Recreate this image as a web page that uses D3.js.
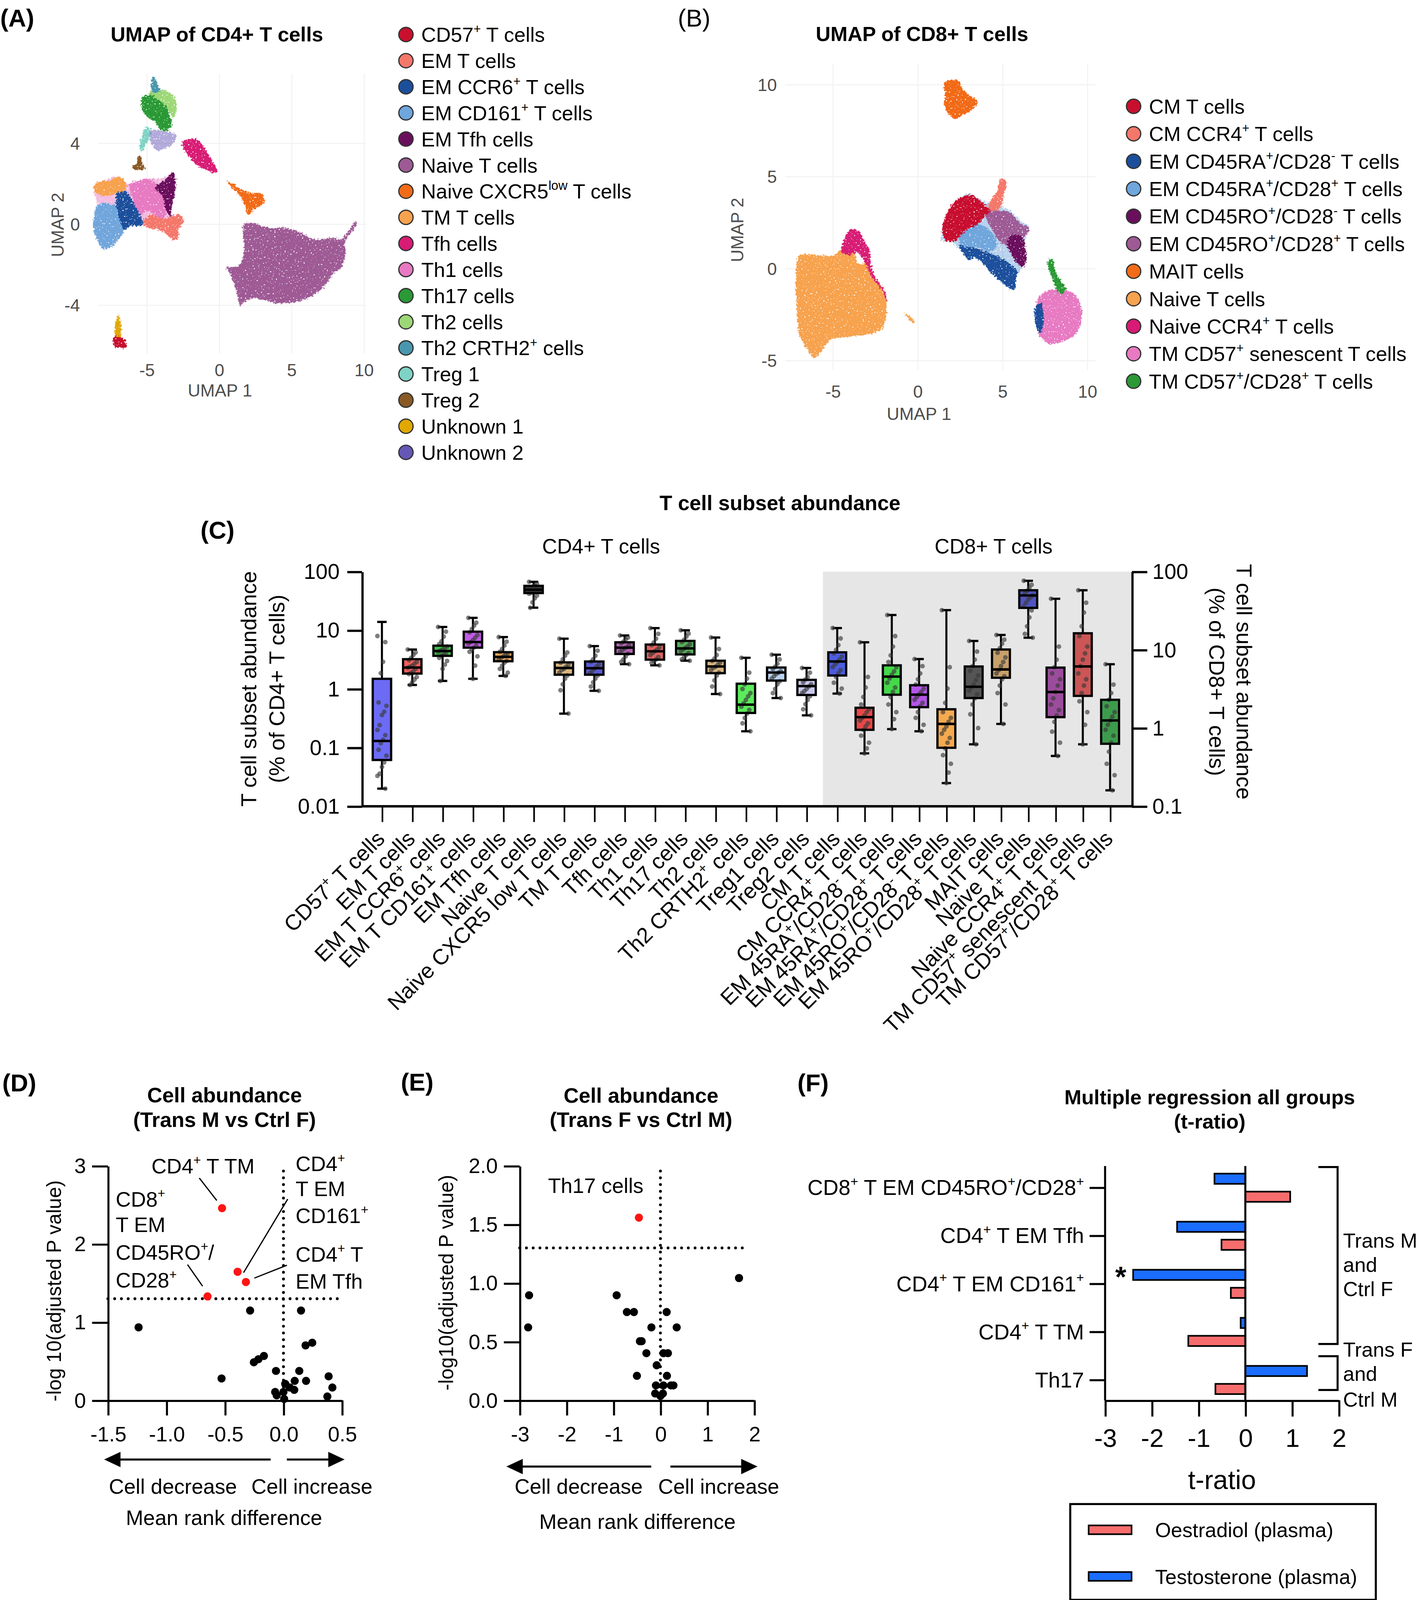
<!DOCTYPE html>
<html>
<head>
<meta charset="utf-8">
<script src="https://cdn.jsdelivr.net/npm/d3@7"></script>
<style>
  body { margin: 0; background: #fff; }
  svg { display: block; }
  text { white-space: pre; }
</style>
</head>
<body>
<svg id="fig"></svg>
<script>
const FONT = "'Liberation Sans',Arial,sans-serif"

// ---------- (A) UMAP of CD4+ T cells ----------
const cd4Subsets = ["CD57{+} T cells", "EM T cells", "EM CCR6{+} T cells", "EM CD161{+} T cells", "EM Tfh cells",
  "Naive T cells", "Naive CXCR5{low} T cells", "TM T cells", "Tfh cells", "Th1 cells", "Th17 cells", "Th2 cells",
  "Th2 CRTH2{+} cells", "Treg 1", "Treg 2", "Unknown 1", "Unknown 2"]
const cd4Colors = ["#c8102e", "#f4786a", "#1b4f9c", "#6fa6dc", "#6a0f5c", "#9e5a95", "#f26b18", "#f7a24e",
  "#d81b74", "#e77ac2", "#2b9935", "#9dd877", "#4997ad", "#7fd3c6", "#8a5a26", "#e0a800", "#6557b5"]
// cluster outlines (UMAP units), listed in drawing order
const cd4DrawOrder = [5, 9, 6, 11, 10, 12, 13, 16, 8, 14, 7, 3, 2, 9, 4, 1, 15, 0]
const cd4Outlines = [
  [[1.70,0.01],[2.35,0.06],[3.40,-0.18],[4.59,-0.18],[5.51,-0.37],[6.56,-0.74],[7.87,-0.65],[8.40,-0.74],[9.45,0.15],[9.51,0.06],[8.66,-0.93],[8.73,-1.4],[8.40,-2.15],[7.87,-2.43],[7.22,-3.09],[6.30,-3.56],[5.24,-3.84],[3.93,-3.89],[2.62,-3.66],[1.83,-3.75],[1.43,-4.03],[1.30,-3.66],[1.17,-3.28],[0.78,-2.53],[0.51,-2.15],[1.30,-2.06],[1.70,-1.4],[1.63,-0.46]],
  [[-8.62,1.98],[-7.90,2.17],[-7.11,2.36],[-6.19,1.98],[-4.87,2.27],[-3.95,2.27],[-3.17,2.55],[-3.03,2.17],[-3.10,1.42],[-3.30,0.48],[-2.77,0.48],[-2.44,0.20],[-2.77,-0.18],[-2.90,-0.74],[-3.17,-0.79],[-3.69,-0.46],[-4.22,-0.27],[-5.27,-0.08],[-6.19,-0.08],[-6.58,-0.27],[-6.98,-0.74],[-7.50,-1.12],[-8.03,-1.21],[-8.42,-0.84],[-8.68,-0.27],[-8.68,0.29],[-8.42,0.95],[-8.62,1.42]],
  [[0.51,2.13],[1.04,1.94],[1.56,1.70],[2.22,1.56],[2.88,1.51],[3.14,1.14],[2.75,0.86],[2.35,0.76],[2.22,0.57],[1.96,0.48],[1.83,0.86],[1.56,1.23],[1.04,1.70],[0.65,1.98]],
  [[-4.74,6.59],[-4.09,6.68],[-3.43,6.50],[-3.03,6.17],[-2.97,5.65],[-3.17,5.27],[-3.56,5.65],[-3.96,5.93],[-4.48,6.12],[-4.87,6.36]],
  [[-5.27,6.31],[-4.74,6.40],[-4.22,6.12],[-3.69,5.84],[-3.43,5.37],[-3.30,4.90],[-3.69,4.62],[-4.09,4.71],[-4.35,4.99],[-4.87,5.27],[-5.27,5.56],[-5.40,5.93]],
  [[-4.61,7.30],[-4.41,7.20],[-4.22,6.87],[-4.09,6.59],[-4.48,6.50],[-4.74,6.68],[-4.68,7.06]],
  [[-5.27,4.62],[-5.01,4.80],[-4.74,4.71],[-4.87,4.24],[-5.14,3.86],[-5.40,3.58],[-5.53,3.86],[-5.40,4.24]],
  [[-4.74,4.62],[-3.69,4.57],[-3.03,4.43],[-3.17,4.05],[-3.69,3.77],[-4.35,3.68],[-4.74,4.05]],
  [[-2.57,4.05],[-1.85,4.24],[-1.46,4.15],[-0.80,3.49],[-0.14,2.60],[-0.41,2.55],[-1.06,2.74],[-1.72,3.02],[-2.25,3.49],[-2.51,3.77]],
  [[-5.60,3.39],[-5.40,3.30],[-5.27,2.92],[-5.14,2.74],[-5.53,2.69],[-6.06,2.78],[-5.73,3.02]],
  [[-8.62,1.98],[-8.16,2.13],[-7.50,2.17],[-7.11,2.36],[-6.71,2.27],[-6.45,1.98],[-6.58,1.61],[-7.11,1.51],[-7.63,1.42],[-8.16,1.42],[-8.62,1.61]],
  [[-8.42,0.95],[-7.63,1.04],[-7.11,0.86],[-6.91,0.29],[-6.58,-0.27],[-6.98,-0.74],[-7.50,-1.12],[-8.03,-1.21],[-8.42,-0.84],[-8.68,-0.27],[-8.68,0.29]],
  [[-7.11,1.51],[-6.45,1.61],[-6.06,1.23],[-5.66,0.67],[-5.27,0.10],[-5.53,-0.08],[-6.19,-0.08],[-6.58,-0.27],[-6.91,0.29],[-7.11,0.86]],
  [[-6.19,1.98],[-5.53,2.17],[-4.87,2.27],[-4.35,1.98],[-3.96,1.42],[-3.69,0.67],[-3.96,0.10],[-4.48,0.48],[-5.01,0.67],[-5.40,0.48],[-5.79,0.86],[-6.06,1.42]],
  [[-4.48,1.80],[-3.82,2.17],[-3.17,2.55],[-3.03,2.17],[-3.10,1.42],[-3.30,0.86],[-3.36,0.39],[-3.69,0.67],[-3.96,1.42]],
  [[-5.27,0.10],[-4.74,0.48],[-3.96,0.29],[-3.30,0.39],[-2.77,0.48],[-2.44,0.20],[-2.77,-0.18],[-2.90,-0.74],[-3.17,-0.79],[-3.69,-0.46],[-4.22,-0.27],[-4.87,-0.18]],
  [[-7.04,-4.50],[-6.95,-4.50],[-6.82,-5.54],[-7.17,-5.58]],
  [[-7.24,-5.54],[-6.78,-5.58],[-6.45,-5.82],[-6.38,-6.10],[-6.84,-6.10],[-7.24,-6.05],[-7.37,-5.82]]
]
const umapXTicks = [-5, 0, 5, 10]
const umapAYTicks = [-4, 0, 4]

// ---------- (B) UMAP of CD8+ T cells ----------
const cd8Subsets = ["CM T cells", "CM CCR4{+} T cells", "EM CD45RA{+}/CD28{-} T cells", "EM CD45RA{+}/CD28{+} T cells",
  "EM CD45RO{+}/CD28{-} T cells", "EM CD45RO{+}/CD28{+} T cells", "MAIT cells", "Naive T cells",
  "Naive CCR4{+} T cells", "TM CD57{+} senescent T cells", "TM CD57{+}/CD28{+} T cells"]
const cd8Colors = ["#c8102e", "#f4786a", "#1b4f9c", "#6fa6dc", "#6a0f5c", "#9e5a95", "#f26b18", "#f7a24e",
  "#d81b74", "#e77ac2", "#2b9935"]
const cd8DrawOrder = [7, 7, 8, 6, 3, 2, 3, 5, 4, 1, 0, 9, 2, 10]
const cd8Outlines = [
  [[-7.0,0.72],[-6.38,0.78],[-5.02,0.72],[-4.65,0.95],[-4.28,1.28],[-3.78,0.95],[-3.53,0.28],[-3.04,0.28],[-2.42,-0.61],[-2.05,-1.06],[-1.86,-1.73],[-2.05,-3.18],[-2.67,-3.51],[-3.53,-3.62],[-4.53,-3.74],[-5.15,-3.85],[-5.64,-4.41],[-6.14,-4.85],[-6.51,-4.41],[-7.0,-3.51],[-7.13,-2.40],[-7.19,-0.17]],
  [[-0.8,-2.4],[-0.6,-2.5],[-0.2,-2.85],[-0.25,-2.95],[-0.6,-2.65]],
  [[-4.52,0.95],[-4.28,1.73],[-3.90,2.17],[-3.53,2.06],[-3.16,1.51],[-2.85,0.95],[-2.79,0.28],[-2.42,-0.61],[-1.92,-1.28],[-1.86,-1.73],[-2.17,-1.06],[-2.67,-0.5],[-3.1,0.3],[-3.6,0.9],[-4.1,0.75]],
  [[1.55,10.09],[2.29,10.26],[2.67,9.76],[3.04,9.42],[3.53,9.09],[3.16,8.64],[2.54,8.31],[2.23,8.14],[1.80,8.42],[1.55,8.86],[1.61,9.42]],
  [[1.43,2.06],[1.92,3.29],[2.42,3.85],[3.04,4.07],[3.53,3.85],[4.03,3.62],[5.39,3.18],[6.01,2.62],[6.57,2.29],[6.38,1.84],[6.26,1.28],[6.38,0.61],[6.14,0.06],[5.76,-0.5],[5.64,-1.12],[5.39,-1.06],[4.77,-0.61],[4.15,-0.06],[3.66,0.5],[3.28,0.61],[3.04,0.5],[2.67,0.95],[2.29,1.17],[1.92,1.5],[1.43,1.5]],
  [[2.42,1.28],[3.16,1.17],[3.90,0.95],[4.65,0.72],[5.39,0.28],[5.89,-0.17],[5.76,-0.61],[5.70,-1.11],[5.39,-1.06],[4.77,-0.61],[4.15,-0.06],[3.66,0.45],[3.28,0.61],[3.04,0.45],[2.67,0.84]],
  [[2.42,1.84],[2.91,2.17],[3.53,2.40],[4.15,2.17],[4.52,1.73],[4.65,1.17],[4.15,0.95],[3.53,1.17],[2.91,1.17],[2.54,1.28]],
  [[4.03,3.29],[4.77,3.18],[5.39,3.07],[6.01,2.51],[6.56,2.17],[6.25,1.73],[5.76,1.39],[5.26,1.28],[4.77,1.51],[4.40,2.06],[4.03,2.73]],
  [[5.52,1.84],[6.14,1.73],[6.32,1.17],[6.38,0.50],[6.14,0.06],[5.89,0.28],[5.52,0.72],[5.26,1.28]],
  [[4.65,4.18],[4.83,4.85],[5.20,4.79],[5.08,4.07],[4.90,3.40],[4.65,3.18],[4.28,3.18],[4.15,3.51]],
  [[1.43,2.17],[1.80,3.18],[2.29,3.74],[3.04,4.01],[3.53,3.79],[4.03,3.40],[4.28,3.18],[3.90,2.84],[3.53,2.40],[2.91,2.17],[2.54,1.84],[2.17,1.51],[1.67,1.51]],
  [[7.13,-1.51],[7.75,-1.17],[8.62,-1.17],[9.24,-1.39],[9.61,-2.06],[9.61,-2.95],[9.24,-3.62],[8.50,-3.96],[7.75,-4.07],[7.25,-3.74],[7.01,-3.18],[6.94,-2.29]],
  [[6.94,-2.06],[7.25,-1.84],[7.38,-2.95],[7.19,-3.51],[6.94,-3.07]],
  [[7.69,0.50],[7.93,0.56],[8.12,-0.17],[8.49,-0.72],[8.74,-1.17],[8.43,-1.39],[8.12,-1.06],[7.87,-0.39],[7.69,0.06]]
]
const umapBYTicks = [-5, 0, 5, 10]

// ---------- (C) T cell subset abundance ----------
const boxLabels = ["CD57{+} T cells", "EM T cells", "EM T CCR6{+} cells", "EM T CD161{+} cells", "EM Tfh cells",
  "Naive T cells", "Naive CXCR5 low T cells", "TM T cells", "Tfh cells", "Th1 cells", "Th17 cells", "Th2 cells",
  "Th2 CRTH2{+} cells", "Treg1 cells", "Treg2 cells",
  "CM T cells", "CM CCR4{+} T cells", "EM 45RA{+}/CD28{-} T cells", "EM 45RA{+}/CD28{+} T cells",
  "EM 45RO{+}/CD28{-} T cells", "EM 45RO{+}/CD28{+} T cells", "MAIT cells", "Naive T cells",
  "Naive CCR4{+} T cells", "TM CD57{+} senescent T cells", "TM CD57{+}/CD28{+} T cells"]
const nCD4 = 15
const boxMax = [13.9, 4.7, 11.4, 16.3, 7.67, 67, 7.2, 5.38, 8.16, 10.9, 10, 7.53, 3.4, 3.84, 2.28,
  19, 12.5, 27.9, 7.63, 32.2, 13, 15.5, 76.4, 45, 57.8, 6.55]
const boxQ3 = [1.49, 3.22, 5.47, 9.48, 4.24, 57.3, 2.84, 2.94, 6.25, 5.72, 6.6, 3.03, 1.23, 2.32, 1.43,
  9.3, 1.82, 6.34, 3.53, 1.74, 6.13, 10.1, 57.8, 5.93, 16.3, 2.3]
const boxMedian = [0.13, 2.32, 4.43, 6.3, 3.52, 49.2, 2.28, 2.26, 5.06, 4.39, 4.92, 2.42, 0.54, 1.91, 1.12,
  7.1, 1.38, 4.55, 2.67, 1.13, 3.37, 5.62, 49.6, 2.89, 6.13, 1.25]
const boxQ1 = [0.0616, 1.83, 3.67, 5.06, 2.97, 43.1, 1.75, 1.75, 3.95, 3.16, 3.88, 1.86, 0.39, 1.39, 0.79,
  4.7, 0.95, 2.67, 1.85, 0.56, 2.42, 4.4, 34.4, 1.38, 2.58, 0.63]
const boxMin = [0.02, 1.17, 1.37, 1.49, 1.67, 24.3, 0.38, 0.93, 2.65, 2.53, 3.03, 0.82, 0.19, 0.7, 0.355,
  2.76, 0.475, 0.97, 0.91, 0.198, 0.62, 1.13, 14.3, 0.44, 0.62, 0.16]
const boxColors = ["#6b6bf5", "#f25f5c", "#3fbf4a", "#c45ae8", "#e8a85e", "#3a3a3a", "#d9b780", "#5b5bd6",
  "#b565b5", "#e06262", "#55b05a", "#d9b780", "#5bec5b", "#b9d3f0", "#c9c9ef",
  "#4b5ce0", "#e84848", "#44d84a", "#b455e8", "#f5aa4f", "#555555", "#c8a06a", "#5055c0", "#9c4c9c",
  "#cc5555", "#3d9c4c"]
const boxDots = [
  [8.0,6.3,2.9,1.86,0.59,0.515,0.41,0.36,0.242,0.2,0.163,0.136,0.119,0.092,0.073,0.056,0.047,0.036,0.033,0.02],
  [4.7,4.2,3.8,3.4,3.1,2.9,2.7,2.5,2.4,2.3,2.2,2.0,1.9,1.8,1.6,1.45,1.3,1.17],
  [11.4,9.5,7.8,6.5,5.8,5.3,5.0,4.7,4.5,4.3,4.1,3.9,3.7,3.4,3.0,2.6,2.2,1.37],
  [16.3,13.5,12,10.5,9.2,8.3,7.5,6.8,6.3,5.9,5.5,5.1,4.8,4.3,3.6,2.5,1.49],
  [7.67,6.4,5.5,4.8,4.3,4.0,3.8,3.6,3.4,3.2,3.0,2.8,2.5,2.2,1.9,1.67],
  [67,62,58,55,52,50,48,46,44,42,39,35,30,24.3],
  [7.2,4.2,3.7,3.2,2.8,2.6,2.4,2.2,2.1,1.9,1.7,1.5,1.2,0.95,0.38],
  [5.38,4.5,3.7,3.2,2.9,2.6,2.4,2.2,2.0,1.85,1.7,1.5,1.3,1.1,0.93],
  [8.16,7.5,7.0,6.4,6.0,5.6,5.2,4.9,4.6,4.3,4.0,3.6,3.2,2.9,2.65],
  [10.9,8.7,7.2,6.2,5.6,5.1,4.7,4.4,4.1,3.8,3.5,3.2,3.0,2.8,2.53],
  [10,8.8,7.8,6.9,6.3,5.8,5.3,5.0,4.7,4.4,4.1,3.8,3.5,3.2,3.03],
  [7.53,4.8,3.8,3.3,3.0,2.8,2.6,2.4,2.3,2.1,1.9,1.7,1.4,1.1,0.82],
  [3.4,1.9,1.5,1.2,1.0,0.85,0.75,0.65,0.57,0.5,0.44,0.38,0.32,0.26,0.19],
  [3.84,3.2,2.7,2.4,2.2,2.0,1.9,1.8,1.65,1.5,1.35,1.2,1.0,0.85,0.7],
  [2.28,1.9,1.6,1.45,1.3,1.2,1.1,1.0,0.92,0.85,0.75,0.65,0.55,0.45,0.355],
  [19,14,11.5,10,9,8.2,7.5,7,6.5,6,5.5,5,4.5,3.8,3.2,2.76],
  [12.5,4.5,3.3,2.5,2.0,1.75,1.6,1.45,1.35,1.25,1.15,1.05,0.95,0.8,0.65,0.55,0.475],
  [27.9,15,11,8.5,7,6,5.3,4.8,4.3,3.8,3.3,2.9,2.5,2.0,1.6,1.3,0.97],
  [7.63,6.2,5,4.2,3.6,3.2,2.9,2.7,2.5,2.3,2.1,1.9,1.6,1.35,1.1,0.91],
  [32.2,6,3.2,2.1,1.6,1.35,1.2,1.05,0.95,0.85,0.75,0.65,0.55,0.45,0.35,0.27,0.198],
  [13,9.5,7.5,6.2,5.4,4.7,4.1,3.6,3.3,3.0,2.7,2.4,2.0,1.5,1.0,0.62],
  [15.5,13.5,12,10.5,9.2,8,7,6.2,5.5,5.0,4.6,4.2,3.5,2.8,2.0,1.13],
  [76.4,68,62,57,53,50,47,44,40,36,32,26,20,16,14.3],
  [45,11,7.5,6,5,4.2,3.5,2.9,2.4,2.0,1.7,1.45,1.2,0.9,0.65,0.44],
  [57.8,40,30,20,15,11,9,7.5,6.2,5,4.2,3.5,2.8,2.2,1.6,1.1,0.62],
  [6.55,3.6,2.8,2.3,1.9,1.6,1.4,1.25,1.1,0.95,0.8,0.65,0.5,0.35,0.25,0.16]
]
const leftTicks = [0.01, 0.1, 1, 10, 100]
const rightTicks = [0.1, 1, 10, 100]

// ---------- (D) Trans M vs Ctrl F ----------
const dSigX = [-0.525, -0.392, -0.321, -0.649]
const dSigY = [2.46, 1.646, 1.515, 1.331]
const dNsX = [-1.238, -0.285, 0.15, 0.189, 0.246, -0.253, -0.214, -0.167, -0.529, -0.064, 0.135, 0.386, 0.193,
  0.096, 0.418, 0.015, 0.054, 0.092, -0.071, -0.058, 0.0, 0.006, 0.375]
const dNsY = [0.935, 1.15, 1.15, 0.704, 0.738, 0.488, 0.527, 0.569, 0.281, 0.377, 0.377, 0.308, 0.25,
  0.25, 0.165, 0.212, 0.165, 0.135, 0.108, 0.065, 0.108, 0.019, 0.05]
const dXTicks = [-1.5, -1.0, -0.5, 0.0, 0.5]
const dYTicks = [0, 1, 2, 3]

// ---------- (E) Trans F vs Ctrl M ----------
const eSigX = [-0.459]
const eSigY = [1.559]
const eNsX = [-2.8, -2.82, -0.933, -0.715, -0.565, -0.192, 0.133, 0.347, -0.437, -0.4, -0.299, -0.08, 0.064,
  0.16, -0.501, 0.139, -0.096, 0.064, 0.224, 0.277, -0.112, 0.053, 0.0, 1.675]
const eNsY = [0.897, 0.623, 0.897, 0.754, 0.754, 0.623, 0.754, 0.623, 0.505, 0.505, 0.403, 0.3, 0.403,
  0.403, 0.21, 0.21, 0.128, 0.128, 0.128, 0.128, 0.059, 0.059, 0.038, 1.044]
const eXTicks = [-3, -2, -1, 0, 1, 2]
const eYTicks = [0, 0.5, 1.0, 1.5, 2.0]
const sigThreshold = -Math.log10(0.05)

// ---------- (F) Multiple regression ----------
const fCats = ["CD8{+} T EM CD45RO{+}/CD28{+}", "CD4{+} T EM Tfh", "CD4{+} T EM CD161{+}", "CD4{+} T TM", "Th17"]
const testosterone = [-0.66, -1.46, -2.40, -0.10, 1.32]
const oestradiol = [0.96, -0.51, -0.31, -1.22, -0.64]
const fXTicks = [-3, -2, -1, 0, 1, 2]

// ================= drawing =================
const svg = d3.select("#fig")
  .attr("viewBox", "0 0 1390 1567")
  .attr("width", 3638).attr("height", 4100)

const defs = svg.append("defs")
const rough = defs.append("filter").attr("id", "rough")
  .attr("x", "-10%").attr("y", "-10%").attr("width", "120%").attr("height", "120%")
rough.append("feTurbulence").attr("type", "fractalNoise").attr("baseFrequency", 0.55)
  .attr("numOctaves", 2).attr("seed", 4).attr("result", "n")
rough.append("feDisplacementMap").attr("in", "SourceGraphic").attr("in2", "n")
  .attr("scale", 5).attr("xChannelSelector", "R").attr("yChannelSelector", "G").attr("result", "d")
rough.append("feTurbulence").attr("type", "fractalNoise").attr("baseFrequency", 0.7)
  .attr("numOctaves", 1).attr("seed", 11).attr("result", "s")
rough.append("feColorMatrix").attr("in", "s").attr("type", "matrix")
  .attr("values", "0 0 0 0 0  0 0 0 0 0  0 0 0 0 0  0 0 0 -14 10.2").attr("result", "m")
rough.append("feComposite").attr("in", "d").attr("in2", "m").attr("operator", "in")

// text with {superscript} parts
function rich(t, str, fs) {
  const parts = str.split(/(\{[^}]*\})/).filter(s => s !== "")
  let raised = false
  parts.forEach(p => {
    const sup = p.startsWith("{")
    const s = t.append("tspan").text(sup ? p.slice(1, -1) : p)
    if (sup) { s.attr("dy", -fs * 0.42).attr("font-size", fs * 0.62); raised = true }
    else if (raised) { s.attr("dy", fs * 0.42); raised = false }
  })
}

function txt(parent, x, y, str, o = {}) {
  const fs = o.size || 20
  const t = parent.append("text")
    .attr("x", x).attr("y", y)
    .attr("font-family", FONT)
    .attr("font-size", fs)
    .attr("font-weight", o.bold ? "bold" : "normal")
    .attr("text-anchor", o.anchor || "start")
    .attr("fill", o.fill || "#000")
  if (o.rotate) t.attr("transform", `rotate(${o.rotate},${x},${y})`)
  rich(t, str, fs)
  return t
}

function styleAxis(g, size, sw) {
  g.attr("font-family", FONT).attr("font-size", size)
  g.selectAll("path.domain").attr("stroke", "#000").attr("stroke-width", sw)
  g.selectAll(".tick line").attr("stroke", "#000").attr("stroke-width", sw)
  g.selectAll(".tick text").attr("fill", "#000")
}

const blob = d3.line().curve(d3.curveCatmullRomClosed.alpha(0.5))

function umapPanel(g, x, y, yTicks, order, outlines, colors, grid, faint) {
  // faint ggplot grid
  g.selectAll(".gh").data(yTicks).join("line")
    .attr("x1", grid[0]).attr("x2", grid[1])
    .attr("y1", d => y(d)).attr("y2", d => y(d))
    .attr("stroke", "#f2f2f2").attr("stroke-width", 1)
  g.selectAll(".gv").data(umapXTicks).join("line")
    .attr("x1", d => x(d)).attr("x2", d => x(d))
    .attr("y1", grid[2]).attr("y2", grid[3])
    .attr("stroke", "#f2f2f2").attr("stroke-width", 1)
  g.append("g").selectAll("path").data(order).join("path")
    .attr("d", (k, i) => blob(outlines[i].map(p => [x(p[0]), y(p[1])])))
    .attr("fill", k => colors[k])
    .attr("fill-opacity", (k, i) => faint.includes(i) ? 0.5 : 1)
    .attr("filter", "url(#rough)")
}

function legend(g, x0, y0, step, names, colors, fs) {
  names.forEach((n, i) => {
    g.append("circle").attr("cx", x0).attr("cy", y0 + i * step).attr("r", 7)
      .attr("fill", colors[i]).attr("stroke", "#333").attr("stroke-width", 1.2)
    txt(g, x0 + 15, y0 + i * step + fs * 0.36, n, { size: fs })
  })
}

// ---- panel A ----
const gA = svg.append("g")
txt(gA, 0, 26, "(A)", { size: 24, bold: true })
txt(gA, 212, 40.5, "UMAP of CD4+ T cells", { size: 20, bold: true, anchor: "middle" })
const xA = d3.scaleLinear().domain([-5, 10]).range([143.7, 356.1])
const yA = d3.scaleLinear().domain([-4, 4]).range([298.7, 140.3])
umapPanel(gA, xA, yA, umapAYTicks, cd4DrawOrder, cd4Outlines, cd4Colors, [96, 358, 72, 346], [1, 7])
umapXTicks.forEach(t => txt(gA, xA(t), 368, String(t), { size: 17, anchor: "middle", fill: "#4d4d4d" }))
umapAYTicks.forEach(t => txt(gA, 78, yA(t) + 6, String(t), { size: 17, anchor: "end", fill: "#4d4d4d" }))
txt(gA, 215, 388, "UMAP 1", { size: 17, anchor: "middle", fill: "#4d4d4d" })
txt(gA, 62, 220, "UMAP 2", { size: 17, anchor: "middle", fill: "#4d4d4d", rotate: -90 })
legend(gA, 397, 33.8, 25.55, cd4Subsets, cd4Colors, 20)

// ---- panel B ----
const gB = svg.append("g")
txt(gB, 663, 26, "(B)", { size: 24 })
txt(gB, 902, 40, "UMAP of CD8+ T cells", { size: 20, bold: true, anchor: "middle" })
const xB = d3.scaleLinear().domain([-5, 10]).range([815, 1064])
const yB = d3.scaleLinear().domain([-5, 10]).range([353, 83])
umapPanel(gB, xB, yB, umapBYTicks, cd8DrawOrder, cd8Outlines, cd8Colors, [768, 1072, 62, 362], [4])
umapXTicks.forEach(t => txt(gB, xB(t), 389, String(t), { size: 17, anchor: "middle", fill: "#4d4d4d" }))
umapBYTicks.forEach(t => txt(gB, 760, yB(t) + 6, String(t), { size: 17, anchor: "end", fill: "#4d4d4d" }))
txt(gB, 899, 411, "UMAP 1", { size: 17, anchor: "middle", fill: "#4d4d4d" })
txt(gB, 727, 225, "UMAP 2", { size: 17, anchor: "middle", fill: "#4d4d4d", rotate: -90 })
legend(gB, 1109, 104, 26.9, cd8Subsets, cd8Colors, 20)

// ---- panel C ----
const gC = svg.append("g")
txt(gC, 763, 499, "T cell subset abundance", { size: 20.3, bold: true, anchor: "middle" })
txt(gC, 196, 527, "(C)", { size: 24, bold: true })
txt(gC, 588, 541.5, "CD4+ T cells", { size: 20.2, anchor: "middle" })
txt(gC, 972, 541.5, "CD8+ T cells", { size: 20.2, anchor: "middle" })

const yL = d3.scaleLog().domain([0.01, 100]).range([788.9, 559.3])
const yR = d3.scaleLog().domain([0.1, 100]).range([788.9, 559.3])
const xCD4 = d3.scalePoint().domain(d3.range(nCD4)).range([373.5, 789])
const xCD8 = d3.scalePoint().domain(d3.range(boxLabels.length - nCD4)).range([819, 1086])
const xBox = i => i < nCD4 ? xCD4(i) : xCD8(i - nCD4)
const yBox = i => i < nCD4 ? yL : yR

gC.append("rect").attr("x", 805).attr("y", yR(100)).attr("width", 1107.4 - 805)
  .attr("height", yR(0.1) - yR(100)).attr("fill", "#e6e6e6")

const fmtLog = d => d >= 1 ? String(d) : String(+d.toPrecision(1))
const axL = gC.append("g").attr("transform", "translate(354,0)")
  .call(d3.axisLeft(yL).tickValues(leftTicks).tickFormat(fmtLog).tickSize(14.4).tickSizeOuter(0).tickPadding(7.5))
styleAxis(axL, 21, 2.2)
const axR = gC.append("g").attr("transform", "translate(1107.4,0)")
  .call(d3.axisRight(yR).tickValues(rightTicks).tickFormat(fmtLog).tickSize(15).tickSizeOuter(0).tickPadding(5))
styleAxis(axR, 21, 2.2)

const boxIdx = d3.range(boxLabels.length)
const xCat = d3.scaleOrdinal().domain(boxIdx).range(boxIdx.map(xBox))
const axB = gC.append("g").attr("transform", "translate(0,788.9)")
  .call(d3.axisBottom(xCat).tickFormat("").tickSize(15.4))
axB.select("path.domain").remove()
styleAxis(axB, 19, 1.6)
gC.append("line").attr("x1", 354).attr("x2", 1107.4).attr("y1", 788.9).attr("y2", 788.9)
  .attr("stroke", "#000").attr("stroke-width", 2.4)

boxIdx.forEach(i => {
  const x = xBox(i), y = yBox(i), w = i < nCD4 ? 18 : 17.5, cap = 4.6
  const g = gC.append("g")
  g.append("line").attr("x1", x).attr("x2", x).attr("y1", y(boxMax[i])).attr("y2", y(boxMin[i]))
    .attr("stroke", "#000").attr("stroke-width", 2)
  ;[boxMax[i], boxMin[i]].forEach(v => g.append("line").attr("x1", x - cap).attr("x2", x + cap)
    .attr("y1", y(v)).attr("y2", y(v)).attr("stroke", "#000").attr("stroke-width", 2.2))
  g.append("rect").attr("x", x - w / 2).attr("y", y(boxQ3[i])).attr("width", w)
    .attr("height", y(boxQ1[i]) - y(boxQ3[i])).attr("fill", boxColors[i])
  g.selectAll("circle").data(boxDots[i]).join("circle")
    .attr("cx", (d, k) => x + ((k * 7) % 9 - 4) * 1.1)
    .attr("cy", d => y(d)).attr("r", 2.3)
    .attr("fill", "#3a3a3a").attr("fill-opacity", 0.65)
  g.append("rect").attr("x", x - w / 2).attr("y", y(boxQ3[i])).attr("width", w)
    .attr("height", y(boxQ1[i]) - y(boxQ3[i])).attr("fill", "none").attr("stroke", "#000").attr("stroke-width", 2.2)
  g.append("line").attr("x1", x - w / 2).attr("x2", x + w / 2).attr("y1", y(boxMedian[i])).attr("y2", y(boxMedian[i]))
    .attr("stroke", "#000").attr("stroke-width", 2.4)
  txt(gC, x + 4, 822, boxLabels[i], { size: 21.3, anchor: "end", rotate: -45 })
})

txt(gC, 250.5, 674, "T cell subset abundance", { size: 21.3, anchor: "middle", rotate: -90 })
txt(gC, 278, 674, "(% of CD4+ T cells)", { size: 21.3, anchor: "middle", rotate: -90 })
txt(gC, 1210, 667, "T cell subset abundance", { size: 21.3, anchor: "middle", rotate: 90 })
txt(gC, 1183, 667, "(% of CD8+ T cells)", { size: 21.3, anchor: "middle", rotate: 90 })

// ---- volcano panels D and E ----
function dotted(g, x1, y1, x2, y2) {
  g.append("line").attr("x1", x1).attr("y1", y1).attr("x2", x2).attr("y2", y2)
    .attr("stroke", "#000").attr("stroke-width", 2.8).attr("stroke-linecap", "round")
    .attr("stroke-dasharray", "0,6.6")
}
function arrows(g, yA, l0, l1, r0, r1) {
  g.append("line").attr("x1", l0).attr("x2", l1 + 14).attr("y1", yA).attr("y2", yA).attr("stroke", "#000").attr("stroke-width", 2)
  g.append("path").attr("d", `M${l1},${yA}L${l1 + 16},${yA - 7.5}L${l1 + 16},${yA + 7.5}Z`).attr("fill", "#000")
  g.append("line").attr("x1", r0).attr("x2", r1 - 14).attr("y1", yA).attr("y2", yA).attr("stroke", "#000").attr("stroke-width", 2)
  g.append("path").attr("d", `M${r1},${yA}L${r1 - 16},${yA - 7.5}L${r1 - 16},${yA + 7.5}Z`).attr("fill", "#000")
}
function volcano(g, x, y, xTicks, yTicks, yFmt, xFmt, sigX, sigY, nsX, nsY, hEnd) {
  const ax = g.append("g").attr("transform", `translate(${x.range()[0]},0)`)
    .call(d3.axisLeft(y).tickValues(yTicks).tickFormat(yFmt).tickSize(15.5).tickSizeOuter(0).tickPadding(6))
  styleAxis(ax, 20.5, 2)
  const bx = g.append("g").attr("transform", `translate(0,${y.range()[0]})`)
    .call(d3.axisBottom(x).tickValues(xTicks).tickFormat(xFmt).tickSize(14.7).tickSizeOuter(0).tickPadding(11))
  styleAxis(bx, 20.5, 2)
  dotted(g, x.range()[0], y(sigThreshold), hEnd, y(sigThreshold))
  dotted(g, x(0), y.range()[0], x(0), y(y.domain()[1]))
  g.selectAll(".ns").data(nsX).join("circle").attr("class", "ns")
    .attr("cx", d => x(d)).attr("cy", (d, i) => y(nsY[i])).attr("r", 4).attr("fill", "#000")
  g.selectAll(".sig").data(sigX).join("circle").attr("class", "sig")
    .attr("cx", d => x(d)).attr("cy", (d, i) => y(sigY[i])).attr("r", 4).attr("fill", "#ff1414")
}
const hyphenFmt = f => d => f(d).replace("\u2212", "-")

const gD = svg.append("g")
txt(gD, 2, 1068, "(D)", { size: 24, bold: true })
txt(gD, 219.5, 1078.5, "Cell abundance", { size: 20.5, bold: true, anchor: "middle" })
txt(gD, 219.5, 1102.5, "(Trans M vs Ctrl F)", { size: 20.5, bold: true, anchor: "middle" })
const xD = d3.scaleLinear().domain([-1.5, 0.5]).range([105.4, 334.4])
const yD = d3.scaleLinear().domain([0, 3]).range([1370.2, 1140.8])
volcano(gD, xD, yD, dXTicks, dYTicks, d3.format("d"), hyphenFmt(d3.format(".1f")),
  dSigX, dSigY, dNsX, dNsY, xD(0.49))
txt(gD, 59.5, 1263, "-log 10(adjusted P value)", { size: 19.5, anchor: "middle", rotate: -90 })
arrows(gD, 1428, 264.6, 101.7, 280.5, 337)
txt(gD, 169, 1461.5, "Cell decrease", { size: 20.5, anchor: "middle" })
txt(gD, 305, 1461.5, "Cell increase", { size: 20.5, anchor: "middle" })
txt(gD, 219, 1492, "Mean rank difference", { size: 20.5, anchor: "middle" })
// annotations
txt(gD, 148, 1148, "CD4{+} T TM", { size: 20.5 })
;["CD8{+}", "T EM", "CD45RO{+}/", "CD28{+}"].forEach((s, i) => txt(gD, 113, [1180.5, 1205.5, 1232.5, 1259.8][i], s, { size: 20.5 }))
;["CD4{+}", "T EM", "CD161{+}"].forEach((s, i) => txt(gD, 289, [1146, 1170.2, 1196.6][i], s, { size: 20.5 }))
;["CD4{+} T", "EM Tfh"].forEach((s, i) => txt(gD, 289, [1234.3, 1260.7][i], s, { size: 20.5 }))
const leaders = [[194.8, 1152.6, 211.9, 1174.6], [183.3, 1237.3, 198, 1258.4], [281.3, 1173.2, 238.1, 1245.2], [280.5, 1237.9, 248.7, 1250.5]]
leaders.forEach(l => gD.append("line").attr("x1", l[0]).attr("y1", l[1]).attr("x2", l[2]).attr("y2", l[3])
  .attr("stroke", "#000").attr("stroke-width", 1.2))

const gE = svg.append("g")
txt(gE, 392, 1067, "(E)", { size: 24, bold: true })
txt(gE, 627, 1079, "Cell abundance", { size: 20.5, bold: true, anchor: "middle" })
txt(gE, 627, 1102.5, "(Trans F vs Ctrl M)", { size: 20.5, bold: true, anchor: "middle" })
const xE = d3.scaleLinear().domain([-3, 2]).range([508.3, 737.8])
const yE = d3.scaleLinear().domain([0, 2]).range([1370.2, 1140.8])
volcano(gE, xE, yE, eXTicks, eYTicks, d3.format(".1f"), hyphenFmt(d3.format("d")),
  eSigX, eSigY, eNsX, eNsY, xE(1.85))
txt(gE, 443, 1255, "-log10(adjusted P value)", { size: 19.5, anchor: "middle", rotate: -90 })
arrows(gE, 1434.9, 637, 495.3, 655.8, 741)
txt(gE, 566, 1461.5, "Cell decrease", { size: 20.5, anchor: "middle" })
txt(gE, 703, 1461.5, "Cell increase", { size: 20.5, anchor: "middle" })
txt(gE, 623.5, 1496, "Mean rank difference", { size: 20.5, anchor: "middle" })
txt(gE, 536, 1167.3, "Th17 cells", { size: 20.5 })

// ---- panel F ----
const gF = svg.append("g")
txt(gF, 780, 1068, "(F)", { size: 24, bold: true })
txt(gF, 1183.5, 1080.5, "Multiple regression all groups", { size: 20, bold: true, anchor: "middle" })
txt(gF, 1183.5, 1104.2, "(t-ratio)", { size: 20, bold: true, anchor: "middle" })
const xF = d3.scaleLinear().domain([-3, 2]).range([1081.1, 1309.8])
const yF = d3.scalePoint().domain(fCats).range([1161.8, 1349.9])
const fy = gF.append("g").attr("transform", "translate(1081.1,0)")
  .call(d3.axisLeft(yF).tickFormat("").tickSize(15.2))
fy.select("path.domain").remove()
styleAxis(fy, 21, 2)
gF.append("line").attr("x1", 1081.1).attr("x2", 1081.1).attr("y1", 1140.9).attr("y2", 1370.2)
  .attr("stroke", "#000").attr("stroke-width", 2)
const fx = gF.append("g").attr("transform", "translate(0,1370.2)")
  .call(d3.axisBottom(xF).tickValues(fXTicks).tickFormat(hyphenFmt(d3.format("d"))).tickSize(15.8).tickSizeOuter(0).tickPadding(12))
styleAxis(fx, 25, 2)
fCats.forEach(c => txt(gF, 1060.5, yF(c) + 7.5, c, { size: 21, anchor: "end" }))
gF.selectAll(".tb").data(testosterone).join("rect").attr("class", "tb")
  .attr("x", d => Math.min(xF(0), xF(d))).attr("width", d => Math.abs(xF(d) - xF(0)))
  .attr("y", (d, i) => yF(fCats[i]) - 13.5).attr("height", 10)
  .attr("fill", "#1a6dff").attr("stroke", "#000").attr("stroke-width", 1.6)
gF.selectAll(".ob").data(oestradiol).join("rect").attr("class", "ob")
  .attr("x", d => Math.min(xF(0), xF(d))).attr("width", d => Math.abs(xF(d) - xF(0)))
  .attr("y", (d, i) => yF(fCats[i]) + 4.1).attr("height", 10)
  .attr("fill", "#f76d6d").attr("stroke", "#000").attr("stroke-width", 1.6)
gF.append("line").attr("x1", xF(0)).attr("x2", xF(0)).attr("y1", 1140.9).attr("y2", 1370.2)
  .attr("stroke", "#000").attr("stroke-width", 2)
txt(gF, 1096.4, 1259, "*", { size: 28, bold: true, anchor: "middle" })
txt(gF, 1195.5, 1457, "t-ratio", { size: 26, anchor: "middle" })
// group brackets
gF.append("path").attr("d", "M1289.8,1141.9H1308.6V1315H1289.8").attr("fill", "none").attr("stroke", "#000").attr("stroke-width", 2)
gF.append("path").attr("d", "M1289.8,1326.9H1308.6V1360H1289.8").attr("fill", "none").attr("stroke", "#000").attr("stroke-width", 2)
;[["Trans M", 1213.6], ["and", 1237.2], ["Ctrl F", 1260.9], ["Trans F", 1320.1], ["and", 1343.8], ["Ctrl M", 1369.1]]
  .forEach(d => txt(gF, 1314, d[1] + 7.3, d[0], { size: 20 }))
// legend
gF.append("rect").attr("x", 1047).attr("y", 1471.6).attr("width", 299).attr("height", 93.7)
  .attr("fill", "none").attr("stroke", "#000").attr("stroke-width", 2)
;[["Oestradiol (plasma)", "#f76d6d", 1496.8], ["Testosterone (plasma)", "#1a6dff", 1542.4]].forEach(d => {
  gF.append("rect").attr("x", 1065).attr("y", d[2] - 4.3).attr("width", 42).attr("height", 8.6)
    .attr("fill", d[1]).attr("stroke", "#000").attr("stroke-width", 1.6)
  txt(gF, 1130, d[2] + 7.3, d[0], { size: 20 })
})
</script>
</body>
</html>
